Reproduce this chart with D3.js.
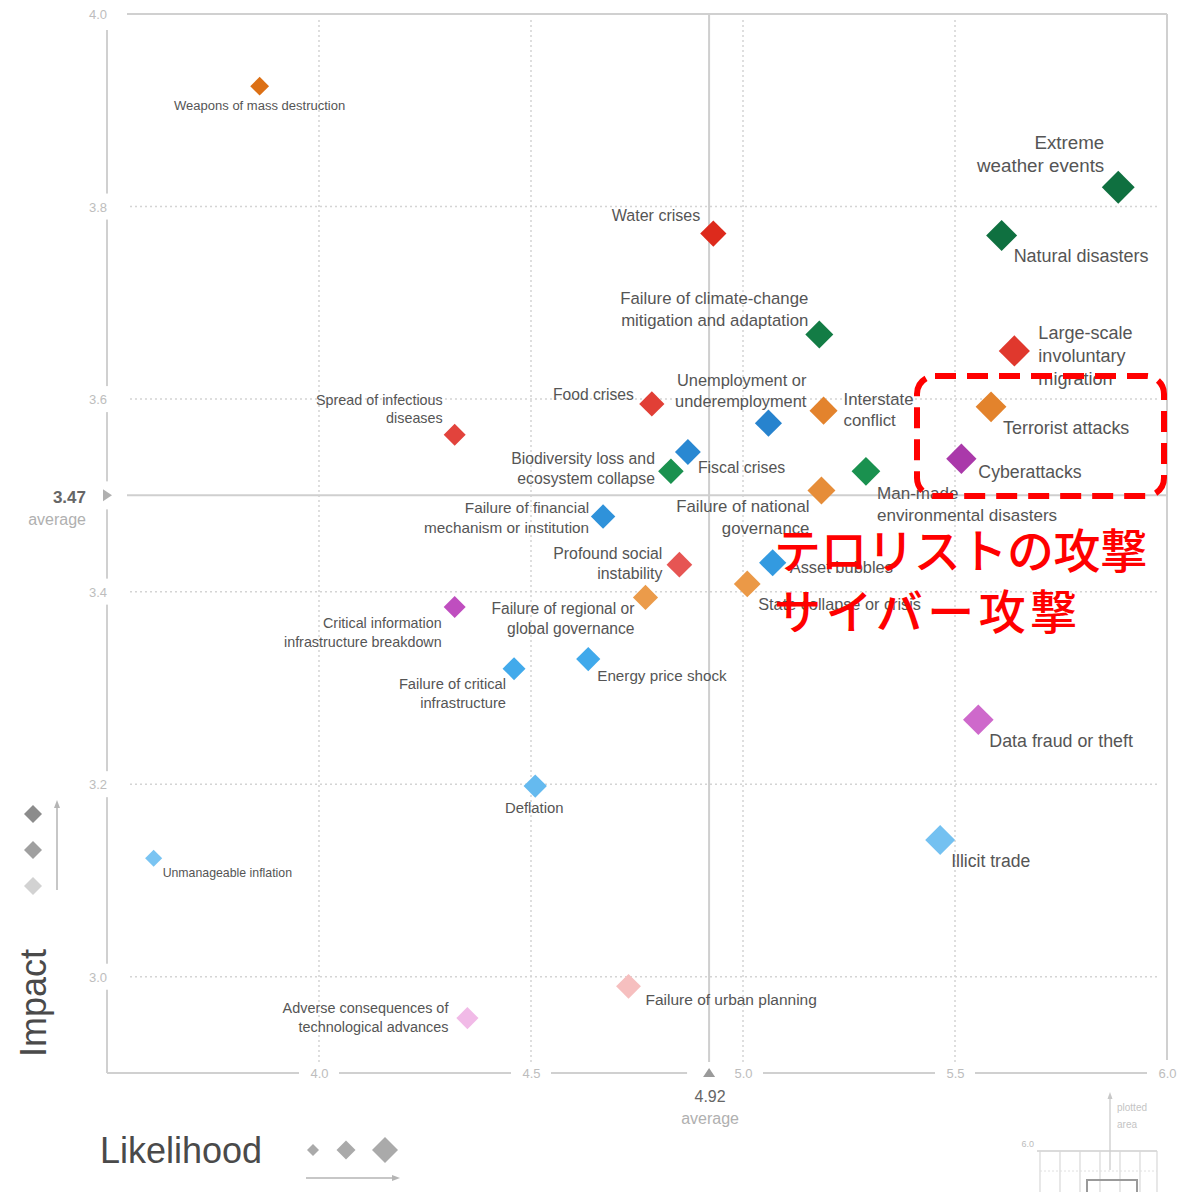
<!DOCTYPE html>
<html>
<head>
<meta charset="utf-8">
<script src="https://cdn.jsdelivr.net/npm/d3@7"></script>
<style>
html,body{margin:0;padding:0;background:#fff;}
svg{display:block;}
</style>
</head>
<body>
<svg id="chart" width="1193" height="1192"></svg>
<script>
// ---------------- DATA ----------------
const risks = [
  "Weapons of mass destruction",
  "Extreme\nweather events",
  "Natural disasters",
  "Water crises",
  "Failure of climate-change\nmitigation and adaptation",
  "Large-scale\ninvoluntary\nmigration",
  "Terrorist attacks",
  "Cyberattacks",
  "Interstate\nconflict",
  "Unemployment or\nunderemployment",
  "Food crises",
  "Spread of infectious\ndiseases",
  "Fiscal crises",
  "Biodiversity loss and\necosystem collapse",
  "Man-made\nenvironmental disasters",
  "Failure of national\ngovernance",
  "Failure of financial\nmechanism or institution",
  "Profound social\ninstability",
  "Asset bubbles",
  "State collapse or crisis",
  "Failure of regional or\nglobal governance",
  "Critical information\ninfrastructure breakdown",
  "Energy price shock",
  "Failure of critical\ninfrastructure",
  "Data fraud or theft",
  "Deflation",
  "Illicit trade",
  "Unmanageable inflation",
  "Failure of urban planning",
  "Adverse consequences of\ntechnological advances"
];
const likelihood = [3.86,5.885,5.61,4.93,5.18,5.64,5.585,5.515,5.19,5.06,4.785,4.32,4.87,4.83,5.29,5.185,4.67,4.85,5.07,5.01,4.77,4.32,4.635,4.46,5.555,4.51,5.465,3.61,4.73,4.35];
const impact     = [3.925,3.82,3.77,3.772,3.667,3.65,3.592,3.538,3.588,3.575,3.595,3.563,3.545,3.525,3.525,3.505,3.478,3.428,3.43,3.408,3.394,3.384,3.33,3.32,3.267,3.198,3.142,3.123,2.99,2.957];
const category   = ["Geopolitical","Environmental","Environmental","Societal","Environmental","Societal","Geopolitical","Technological","Geopolitical","Economic","Societal","Societal","Economic","Environmental","Environmental","Geopolitical","Economic","Societal","Economic","Geopolitical","Geopolitical","Technological","Economic","Economic","Technological","Economic","Economic","Economic","Societal","Technological"];

const xTicks = [4.0, 4.5, 5.0, 5.5, 6.0];
const yTicks = [3.0, 3.2, 3.4, 3.6, 3.8, 4.0];
const avgLikelihood = 4.92;
const avgImpact = 3.47;
const avgImpactDrawnAt = 3.50;   // the reference draws the impact average line at this height
const annotationLines = ["テロリストの攻撃", "サイバー攻撃"];

// ---------------- LAYOUT / STYLE ----------------
// label placement relative to the marker: [anchor, dx, dy]
const labelPlace = [
  ["middle",0,19],["end",-14,-45],["start",12,20],["end",-13,-18],["end",-11,-36],
  ["start",24,-18],["start",12,21],["start",17,13],["start",20,-12],["end",38,-43],
  ["end",-18,-9],["end",-12,-35],["start",10,15],["end",-16,-13],["start",11,22],
  ["end",-12,16],["end",-14,-9],["end",-17,-11],["start",17,4],["start",11,20],
  ["end",-11,11],["end",-13,16],["start",9,17],["end",-8,15],["start",11,21],
  ["middle",-1,22],["start",11,21],["start",9,14],["start",17,13],["end",-19,-10]
];
const ramps = {
  Economic:      ["#aadaf8","#3aa6ea","#1868b8"],
  Environmental: ["#a5e0bc","#22aa5a","#0f7040"],
  Geopolitical:  ["#f9d2ae","#eda050","#dc7015"],
  Societal:      ["#f8caca","#e86060","#dd2a1c"],
  Technological: ["#f2bce8","#c453c4","#8c1c8c"]
};
const annotationSpacing = [-0.4, 4.4];

const W = 1193, H = 1192;
const svg = d3.select("#chart");
svg.append("rect").attr("width",W).attr("height",H).attr("fill","#fff");
const FONT = "'Liberation Sans', Arial, Helvetica, sans-serif";

const x = d3.scaleLinear().domain([3.5, 6.0]).range([107, 1167]);
const y = d3.scaleLinear().domain([2.9, 4.0]).range([1073, 14]);
const sizeScale = d3.scaleLinear().domain([3.6, 5.9]).range([8.5, 16.5]);
const fontScale = d3.scaleLinear().domain([3.6, 5.9]).range([12.3, 18.8]);
const shade = d3.scaleLinear().domain([2.95, 3.75]).range([0, 1]).clamp(true);
function colorOf(cat, imp) {
  const r = ramps[cat];
  return d3.scaleLinear().domain([0, 0.5, 1]).range(r).interpolate(d3.interpolateRgb)(shade(imp));
}

const data = risks.map((name, i) => ({
  name, lx: likelihood[i], iy: impact[i], cat: category[i], place: labelPlace[i]
}));

// ---------------- GRID ----------------
const grid = svg.append("g");
xTicks.filter(v => v < 6).forEach(v => {
  grid.append("line").attr("x1", x(v)).attr("x2", x(v))
    .attr("y1", y(4.0) + 6).attr("y2", y(2.9) - 8)
    .attr("stroke", "#d4d4d4").attr("stroke-width", 1.5).attr("stroke-dasharray", "2,3");
});
yTicks.filter(v => v < 4).forEach(v => {
  grid.append("line").attr("x1", 130).attr("x2", 1157)
    .attr("y1", y(v)).attr("y2", y(v))
    .attr("stroke", "#d4d4d4").attr("stroke-width", 1.5).attr("stroke-dasharray", "2,3");
});
// top & right frame
grid.append("line").attr("x1", 127).attr("x2", x(6.0)).attr("y1", y(4.0)).attr("y2", y(4.0))
  .attr("stroke", "#d0d0d0").attr("stroke-width", 2);
grid.append("line").attr("x1", x(6.0)).attr("x2", x(6.0)).attr("y1", y(4.0)).attr("y2", 1060)
  .attr("stroke", "#d0d0d0").attr("stroke-width", 2);

// averages
grid.append("line").attr("x1", 127).attr("x2", x(6.0))
  .attr("y1", y(avgImpactDrawnAt)).attr("y2", y(avgImpactDrawnAt))
  .attr("stroke", "#cfcfcf").attr("stroke-width", 2);
grid.append("line").attr("x1", x(avgLikelihood)).attr("x2", x(avgLikelihood))
  .attr("y1", y(4.0)).attr("y2", 1062)
  .attr("stroke", "#cfcfcf").attr("stroke-width", 2);

// ---------------- AXES ----------------
const axG = svg.append("g");
axG.append("line").attr("x1", 107).attr("x2", 107).attr("y1", 30).attr("y2", y(2.9))
  .attr("stroke", "#d0d0d0").attr("stroke-width", 2);
axG.append("line").attr("x1", 107).attr("x2", 1150).attr("y1", y(2.9)).attr("y2", y(2.9))
  .attr("stroke", "#d0d0d0").attr("stroke-width", 2);

yTicks.forEach(v => axG.append("rect").attr("x", 84).attr("y", y(v) - 13).attr("width", 30).attr("height", 26).attr("fill", "#fff"));
xTicks.forEach(v => axG.append("rect").attr("x", x(v) - 20).attr("y", y(2.9) - 6).attr("width", 40).attr("height", 12).attr("fill", "#fff"));
axG.append("rect").attr("x", 100).attr("y", y(avgImpactDrawnAt) - 14).attr("width", 14).attr("height", 28).attr("fill", "#fff");
axG.append("rect").attr("x", x(avgLikelihood) - 22).attr("y", y(2.9) - 6).attr("width", 44).attr("height", 12).attr("fill", "#fff");

const yAxis = d3.axisLeft(y).tickValues(yTicks).tickSize(0).tickFormat(d3.format(".1f"));
const yAx = svg.append("g").attr("transform", "translate(107,0)").call(yAxis);
yAx.select(".domain").remove();
yAx.selectAll("text").attr("x", -9).attr("text-anchor", "middle").attr("dy", "0.35em")
  .attr("fill", "#bdbdbd").style("font-family", FONT).style("font-size", "13px");

const xAxis = d3.axisBottom(x).tickValues(xTicks).tickSize(0).tickFormat(d3.format(".1f"));
const xAx = svg.append("g").attr("transform", `translate(0,${y(2.9)})`).call(xAxis);
xAx.select(".domain").remove();
xAx.selectAll("text").attr("y", 0).attr("dy", "0.35em")
  .attr("fill", "#bdbdbd").style("font-family", FONT).style("font-size", "13px");

// average markers
const ay = y(avgImpactDrawnAt), ax = x(avgLikelihood), by = y(2.9);
svg.append("path").attr("d", `M${103},${ay - 6}L${112},${ay}L${103},${ay + 6}Z`).attr("fill", "#b0b0b0");
svg.append("path").attr("d", `M${ax - 6},${by + 4}L${ax},${by - 5}L${ax + 6},${by + 4}Z`).attr("fill", "#9a9a9a");
svg.append("text").attr("x", 86).attr("y", ay + 2).attr("dy", "0.35em").attr("text-anchor", "end")
  .attr("fill", "#666").style("font-family", FONT).style("font-size", "17px").style("font-weight", "bold")
  .text(avgImpact.toFixed(2));
svg.append("text").attr("x", 86).attr("y", ay + 24).attr("dy", "0.35em").attr("text-anchor", "end")
  .attr("fill", "#b0b0b0").style("font-family", FONT).style("font-size", "16px").text("average");
svg.append("text").attr("x", ax + 1).attr("y", 1096).attr("dy", "0.35em").attr("text-anchor", "middle")
  .attr("fill", "#666").style("font-family", FONT).style("font-size", "16px").text(avgLikelihood.toFixed(2));
svg.append("text").attr("x", ax + 1).attr("y", 1118).attr("dy", "0.35em").attr("text-anchor", "middle")
  .attr("fill", "#b0b0b0").style("font-family", FONT).style("font-size", "16px").text("average");

// ---------------- POINTS ----------------
const pts = svg.append("g");
pts.selectAll("path.pt").data(data).join("path").attr("class", "pt")
  .attr("transform", d => `translate(${x(d.lx)},${y(d.iy)}) rotate(45)`)
  .attr("d", d => d3.symbol(d3.symbolSquare, 2 * sizeScale(d.lx) ** 2)())
  .attr("fill", d => colorOf(d.cat, d.iy));

const labs = svg.append("g");
data.forEach(d => {
  const fs = fontScale(d.lx);
  const lh = fs * 1.15 + 2;
  const [anchor, dx, dy] = d.place;
  const t = labs.append("text")
    .attr("text-anchor", anchor)
    .attr("fill", "#555")
    .style("font-family", FONT).style("font-size", fs + "px");
  d.name.split("\n").forEach((line, k) => {
    t.append("tspan").attr("x", x(d.lx) + dx).attr("y", y(d.iy) + dy + k * lh)
      .attr("dy", "0.35em").text(line);
  });
});

// ---------------- AXIS TITLES & LEGENDS ----------------
svg.append("text").attr("transform", "translate(33,1003) rotate(-90)")
  .attr("text-anchor", "middle").attr("dy", "0.35em")
  .attr("fill", "#4a4a4a").style("font-family", FONT).style("font-size", "36px").text("Impact");
svg.append("text").attr("x", 100).attr("y", 1150).attr("dy", "0.35em")
  .attr("fill", "#4a4a4a").style("font-family", FONT).style("font-size", "36px").text("Likelihood");

const legendImpactColors = ["#8c8c8c", "#a0a0a0", "#d2d2d2"];
[814, 850, 886].forEach((yy, i) => {
  svg.append("path").attr("transform", `translate(33,${yy}) rotate(45)`)
    .attr("d", d3.symbol(d3.symbolSquare, 2 * 9 * 9)()).attr("fill", legendImpactColors[i]);
});
svg.append("line").attr("x1", 57).attr("x2", 57).attr("y1", 890).attr("y2", 805)
  .attr("stroke", "#b5b5b5").attr("stroke-width", 1.5);
svg.append("path").attr("d", "M54,808L57,800L60,808Z").attr("fill", "#b5b5b5");

[[313, 6], [346, 9.5], [385, 13]].forEach(([xx, r]) => {
  svg.append("path").attr("transform", `translate(${xx},1150) rotate(45)`)
    .attr("d", d3.symbol(d3.symbolSquare, 2 * r * r)()).attr("fill", "#aaa");
});
svg.append("line").attr("x1", 306).attr("x2", 394).attr("y1", 1178).attr("y2", 1178)
  .attr("stroke", "#b5b5b5").attr("stroke-width", 1.5);
svg.append("path").attr("d", "M392,1175L400,1178L392,1181Z").attr("fill", "#b5b5b5");

// ---------------- INSET (bottom right) ----------------
const inset = svg.append("g");
inset.append("text").attr("x", 1117).attr("y", 1111).attr("fill", "#c4c4c4")
  .style("font-family", FONT).style("font-size", "10px").text("plotted");
inset.append("text").attr("x", 1117).attr("y", 1128).attr("fill", "#c4c4c4")
  .style("font-family", FONT).style("font-size", "10px").text("area");
inset.append("line").attr("x1", 1110).attr("x2", 1110).attr("y1", 1096).attr("y2", 1170)
  .attr("stroke", "#c8c8c8").attr("stroke-width", 1.2);
inset.append("path").attr("d", "M1107.5,1099L1110,1092L1112.5,1099Z").attr("fill", "#c8c8c8");
inset.append("text").attr("x", 1034).attr("y", 1147).attr("text-anchor", "end").attr("fill", "#bbb")
  .style("font-family", FONT).style("font-size", "9px").text("6.0");
inset.append("line").attr("x1", 1037).attr("x2", 1157).attr("y1", 1151).attr("y2", 1151)
  .attr("stroke", "#cfcfcf").attr("stroke-width", 1.5);
[1040, 1060, 1080, 1100, 1120, 1140, 1157].forEach(xx => {
  inset.append("line").attr("x1", xx).attr("x2", xx).attr("y1", 1151).attr("y2", 1192)
    .attr("stroke", "#d8d8d8").attr("stroke-width", 1.2);
});
inset.append("line").attr("x1", 1040).attr("x2", 1157).attr("y1", 1171).attr("y2", 1171)
  .attr("stroke", "#e0e0e0").attr("stroke-width", 1).attr("stroke-dasharray", "2,2");
inset.append("rect").attr("x", 1087).attr("y", 1180).attr("width", 50).attr("height", 20)
  .attr("fill", "none").attr("stroke", "#9a9a9a").attr("stroke-width", 2);

// ---------------- RED ANNOTATION ----------------
svg.append("rect").attr("x", 917).attr("y", 376).attr("width", 247).attr("height", 120)
  .attr("rx", 18).attr("fill", "none").attr("stroke", "#ff0000").attr("stroke-width", 6)
  .attr("stroke-dasharray", "21,11");
annotationLines.forEach((line, k) => {
  svg.append("text").attr("x", 774).attr("y", 551 + k * 61).attr("dy", "0.36em")
    .attr("fill", "#ff0000")
    .style("font-family", "'Noto Sans CJK JP', sans-serif").style("font-size", "47px").style("font-weight", "500")
    .style("letter-spacing", annotationSpacing[k] + "px")
    .text(line);
});
</script>
</body>
</html>
